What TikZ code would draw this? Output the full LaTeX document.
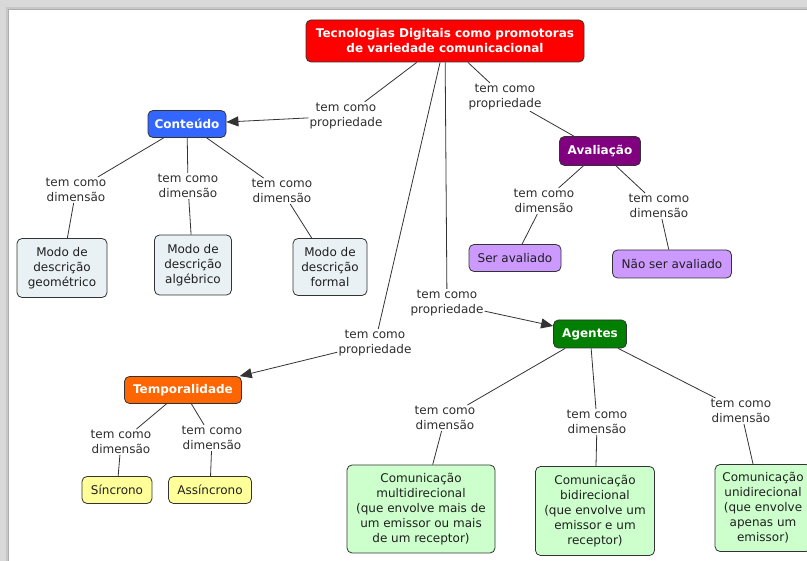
\documentclass[tikz,border=0pt]{standalone}
\usepackage{fontspec}
\setmainfont{DejaVu Sans}
\usetikzlibrary{arrows.meta}
\definecolor{rootred}{HTML}{FF0000}
\definecolor{contblue}{HTML}{3366FF}
\definecolor{avalpurple}{HTML}{800080}
\definecolor{agengreen}{HTML}{007F00}
\definecolor{temporange}{HTML}{FF6600}
\definecolor{modofill}{HTML}{E9F1F4}
\definecolor{lilac}{HTML}{CC99FF}
\definecolor{paleyellow}{HTML}{FFFF99}
\definecolor{palegreen}{HTML}{CCFFCC}
\definecolor{edgegray}{HTML}{333333}
\begin{document}
\begin{tikzpicture}[x=1pt,y=-1pt,
  concept/.style={draw=edgegray, rounded corners=5pt, line width=0.8pt, align=center,
    font=\fontsize{12}{15}\selectfont, text=black!88, inner sep=0pt},
  mainc/.style={concept, font=\bfseries\fontsize{12}{15}\selectfont, text=white},
  lbl/.style={align=center, font=\fontsize{12}{15}\selectfont, text=black!82, inner sep=1pt},
  link/.style={draw=edgegray, line width=0.8pt},
  arr/.style={link, -{Triangle[length=12pt,width=10pt]}}]
% frame
\useasboundingbox (0,0) rectangle (807,561);
\fill[black!15] (0,0) rectangle (807,561);
\fill[black!22] (6,7) rectangle (820,575);
\fill[black!32] (8,9) rectangle (820,575);
\fill[white] (9,10) rectangle (820,575);
% concepts
\node[mainc, fill=rootred, minimum width=278pt, minimum height=42pt] (root) at (445,41)
  {Tecnologias Digitais como promotoras\\de variedade comunicacional};
\node[mainc, fill=contblue, minimum width=78pt, minimum height=27pt] (cont) at (187,124) {Conteúdo};
\node[mainc, fill=avalpurple, minimum width=81pt, minimum height=29pt] (aval) at (600,151) {Avaliação};
\node[mainc, fill=agengreen, minimum width=73pt, minimum height=28pt] (agen) at (590,334) {Agentes};
\node[mainc, fill=temporange, minimum width=117pt, minimum height=27pt] (temp) at (183,390) {Temporalidade};
\node[concept, fill=modofill, minimum width=90pt, minimum height=59pt] (geo) at (62,268) {Modo de\\descrição\\geométrico};
\node[concept, fill=modofill, minimum width=77pt, minimum height=60pt] (alg) at (193,265) {Modo de\\descrição\\algébrico};
\node[concept, fill=modofill, minimum width=74pt, minimum height=57pt] (form) at (330,267) {Modo de\\descrição\\formal};
\node[concept, fill=lilac, minimum width=92pt, minimum height=27pt] (ser) at (515,258) {Ser avaliado};
\node[concept, fill=lilac, minimum width=119pt, minimum height=28pt] (nser) at (672,264) {Não ser avaliado};
\node[concept, fill=paleyellow, minimum width=70pt, minimum height=27pt] (sinc) at (117,490) {Síncrono};
\node[concept, fill=paleyellow, minimum width=83pt, minimum height=27pt] (assi) at (210,490) {Assíncrono};
\node[concept, fill=palegreen, minimum width=148pt, minimum height=88pt] (multi) at (421,509)
  {Comunicação\\multidirecional\\(que envolve mais de\\um emissor ou mais\\de um receptor)};
\node[concept, fill=palegreen, minimum width=119pt, minimum height=89pt] (bid) at (595,511)
  {Comunicação\\bidirecional\\(que envolve um\\emissor e um\\receptor)};
\node[concept, fill=palegreen, minimum width=96pt, minimum height=87pt] (uni) at (763,508)
  {Comunicação\\unidirecional\\(que envolve\\apenas um\\emissor)};
% linking phrases
\node[lbl] (l1) at (346,116) {tem como\\propriedade};
\node[lbl] (l2) at (375,343) {tem como\\propriedade};
\node[lbl] (l3) at (447,303) {tem como\\propriedade};
\node[lbl] (l4) at (505,97) {tem como\\propriedade};
\node[lbl] (lc1) at (76,190) {tem como\\dimensão};
\node[lbl] (lc2) at (188,186) {tem como\\dimensão};
\node[lbl] (lc3) at (282,191) {tem como\\dimensão};
\node[lbl] (la1) at (544,201) {tem como\\dimensão};
\node[lbl] (la2) at (659,206) {tem como\\dimensão};
\node[lbl] (lg1) at (445,418) {tem como\\dimensão};
\node[lbl] (lg2) at (597,422) {tem como\\dimensão};
\node[lbl] (lg3) at (741,411) {tem como\\dimensão};
\node[lbl] (lt1) at (121,442) {tem como\\dimensão};
\node[lbl] (lt2) at (212,438) {tem como\\dimensão};
% connectors
\draw[link] (root) -- (l1);
\draw[arr] (l1) -- (cont);
\draw[link] (root) -- (l2);
\draw[arr] (l2) -- (temp);
\draw[link] (root) -- (l3);
\draw[arr] (l3) -- (agen);
\draw[link] (root) -- (l4);
\draw[link] (l4) -- (aval);
\draw[link] (cont) -- (lc1); \draw[link] (lc1) -- (geo);
\draw[link] (cont) -- (lc2); \draw[link] (lc2) -- (alg);
\draw[link] (cont) -- (lc3); \draw[link] (lc3) -- (form);
\draw[link] (aval) -- (la1); \draw[link] (la1) -- (ser);
\draw[link] (aval) -- (la2); \draw[link] (la2) -- (nser);
\draw[link] (agen) -- (lg1); \draw[link] (lg1) -- (multi);
\draw[link] (agen) -- (lg2); \draw[link] (lg2) -- (bid);
\draw[link] (agen) -- (lg3); \draw[link] (lg3) -- (uni);
\draw[link] (temp) -- (lt1); \draw[link] (lt1) -- (sinc);
\draw[link] (temp) -- (lt2); \draw[link] (lt2) -- (assi);
\end{tikzpicture}
\end{document}
